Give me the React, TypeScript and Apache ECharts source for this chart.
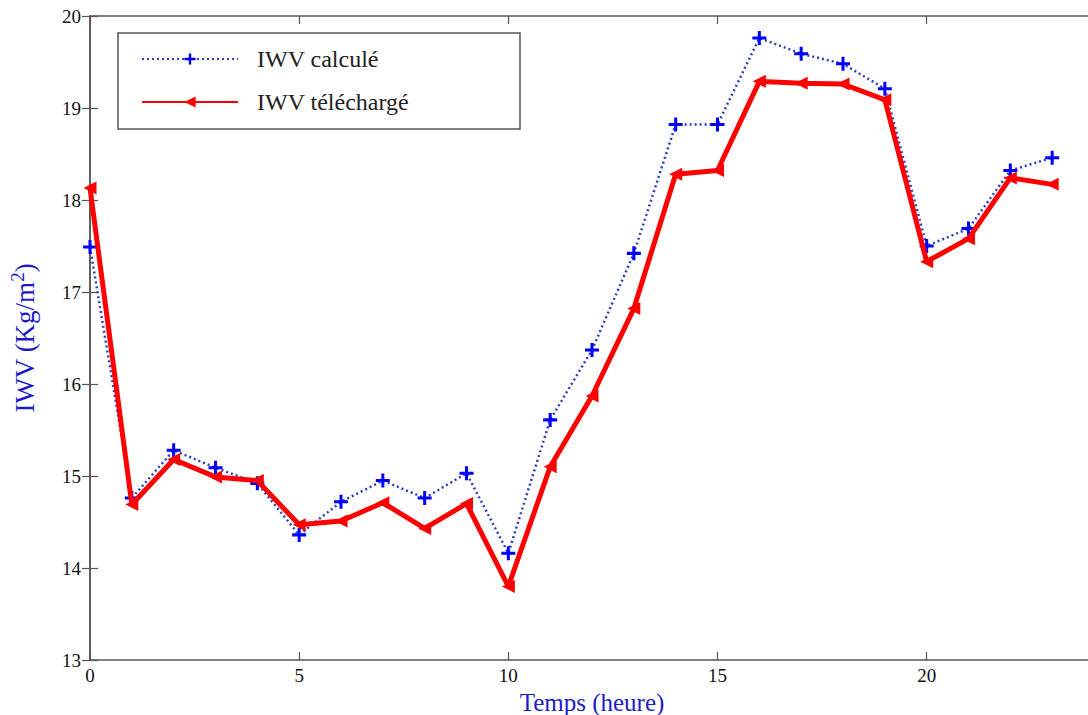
import React, { useEffect, useRef } from "react";
import * as echarts from "echarts";

const hours = [0, 1, 2, 3, 4, 5, 6, 7, 8, 9, 10, 11, 12, 13, 14, 15, 16, 17, 18, 19, 20, 21, 22, 23];
const iwvCalcule = [17.49, 14.76, 15.28, 15.09, 14.92, 14.36, 14.72, 14.95, 14.76, 15.03, 14.16, 15.61, 16.37, 17.42, 18.82, 18.82, 19.76, 19.59, 19.48, 19.21, 17.5, 17.69, 18.32, 18.46];
const iwvTelecharge = [18.13, 14.69, 15.18, 14.99, 14.95, 14.47, 14.51, 14.71, 14.43, 14.7, 13.8, 15.1, 15.87, 16.82, 18.28, 18.32, 19.29, 19.27, 19.26, 19.09, 17.33, 17.58, 18.24, 18.17];
const seriesNames = ["IWV calculé", "IWV téléchargé"];
const xTitle = "Temps (heure)";
const yTitleMain = "IWV (Kg/m";
const yTitleSup = "2";

const SERIF = "Liberation Serif";
const AXIS_COLOR = "#555";
const TITLE_BLUE = "#1c1cc8";

export default function App() {
  const ref = useRef<HTMLDivElement>(null);
  useEffect(() => {
    if (!ref.current) return;
    const chart = echarts.init(ref.current, undefined, { renderer: "svg" });
    const axisLine = { show: true, lineStyle: { color: AXIS_COLOR, width: 1.5 } };
    const tick = { show: true, inside: true, length: 8, lineStyle: { color: AXIS_COLOR, width: 1.2 } };
    chart.setOption({
      animation: false,
      backgroundColor: "#fff",
      textStyle: { fontFamily: SERIF },
      grid: { left: 90, top: 16, right: -6, bottom: 55, containLabel: false, outerBoundsMode: "none" },
      graphic: [
        {
          type: "rect",
          z: 0,
          shape: { x: 118, y: 33, width: 402, height: 96 },
          style: { fill: "#fff", stroke: "#555", lineWidth: 1.5 },
        },
      ],
      legend: {
        orient: "vertical",
        left: 136,
        top: 42,
        itemWidth: 96,
        itemHeight: 14,
        itemGap: 19,
        z: 5,
        data: seriesNames,
        textStyle: { fontFamily: SERIF, fontSize: 24, color: "#222", padding: [0, 0, 0, 14] },
      },
      xAxis: [
        {
          type: "value",
          min: 0,
          max: 24,
          interval: 5,
          position: "bottom",
          name: xTitle,
          nameLocation: "middle",
          nameGap: 21,
          nameTextStyle: { fontFamily: SERIF, fontSize: 25, color: TITLE_BLUE, lineHeight: 25 },
          axisLine,
          axisTick: tick,
          splitLine: { show: false },
          axisLabel: { showMaxLabel: false, fontFamily: SERIF, fontSize: 19, color: "#111", margin: 6 },
        },
        {
          type: "value",
          min: 0,
          max: 24,
          interval: 5,
          position: "top",
          axisLine,
          axisTick: tick,
          splitLine: { show: false },
          axisLabel: { show: false },
        },
      ],
      yAxis: [
        {
          type: "value",
          min: 13,
          max: 20,
          interval: 1,
          position: "left",
          name: "{a|" + yTitleMain + "}{b|" + yTitleSup + "}{a|)}",
          nameLocation: "middle",
          nameGap: 52,
          nameTextStyle: {
            fontFamily: SERIF,
            fontSize: 27,
            color: TITLE_BLUE,
            rich: {
              a: { fontFamily: SERIF, fontSize: 27, color: TITLE_BLUE, lineHeight: 30, verticalAlign: "bottom" },
              b: { fontFamily: SERIF, fontSize: 19, color: TITLE_BLUE, lineHeight: 30, verticalAlign: "top", padding: [0, 0, 14, 0] },
            },
          },
          axisLine,
          axisTick: tick,
          splitLine: { show: false },
          axisLabel: { fontFamily: SERIF, fontSize: 19, color: "#111", margin: 9 },
        },
        {
          type: "value",
          min: 13,
          max: 20,
          interval: 1,
          position: "right",
          axisLine,
          axisTick: tick,
          splitLine: { show: false },
          axisLabel: { show: false },
        },
      ],
      series: [
        {
          name: seriesNames[0],
          type: "line",
          xAxisIndex: 0,
          yAxisIndex: 0,
          data: hours.map((h, i) => [h, iwvCalcule[i]]),
          symbol: "path://M-1.3,-6h2.6v4.7h4.7v2.6h-4.7v4.7h-2.6v-4.7h-4.7v-2.6h4.7z",
          symbolSize: 14,
          itemStyle: { color: "#0000ff" },
          lineStyle: { color: "#2d3fbf", width: 2.5, type: [2, 3] },
          z: 2,
        },
        {
          name: seriesNames[1],
          type: "line",
          xAxisIndex: 0,
          yAxisIndex: 0,
          data: hours.map((h, i) => [h, iwvTelecharge[i]]),
          symbol: "triangle",
          symbolRotate: 90,
          symbolSize: 13,
          itemStyle: { color: "#ff0000" },
          lineStyle: { color: "#ff0000", width: 5 },
          z: 3,
        },
      ],
    });
    return () => chart.dispose();
  }, []);
  return (
    <div
      ref={ref}
      style={{ position: "fixed", left: 0, top: 0, width: 1088, height: 715 }}
    />
  );
}
